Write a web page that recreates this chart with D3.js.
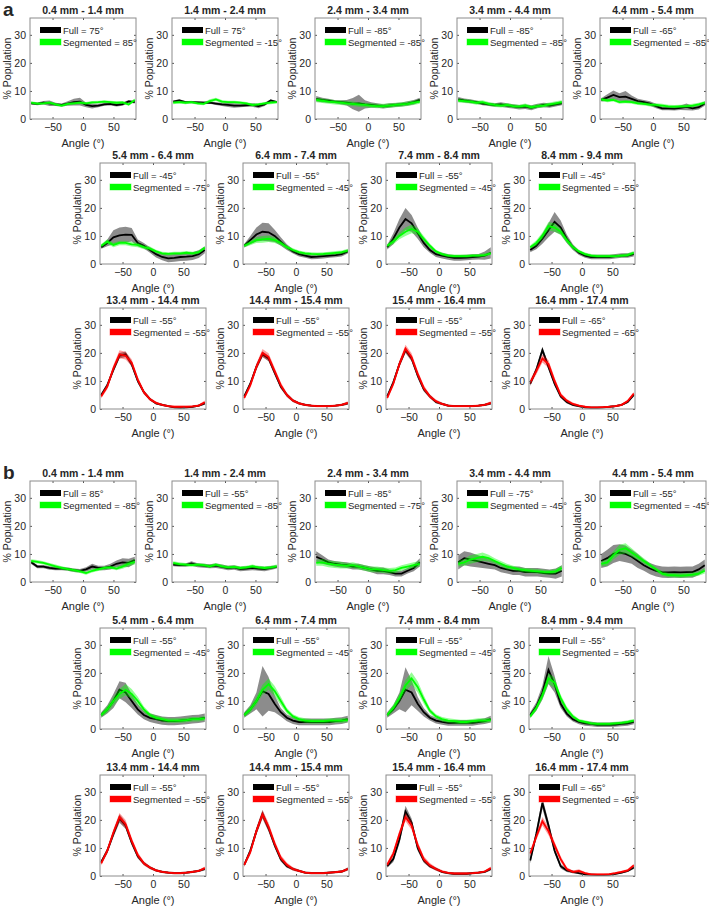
<!DOCTYPE html>
<html>
<head>
<meta charset="utf-8">
<script src="https://cdn.jsdelivr.net/npm/d3@7"></script>
<style>
  body { margin: 0; background: #fff; }
  text { font-family: "Liberation Sans", Arial, sans-serif; fill: #262626; }
</style>
</head>
<body>
<div id="chart"></div>
<script>
const width = 709;
const height = 906;

// bin centres (degrees)
const angles = [-85, -75, -65, -55, -45, -35, -25, -15, -5, 5, 15, 25, 35, 45, 55, 65, 75, 85];
const yTicks = [0, 10, 20, 30];
const xTicks = [-50, 0, 50];

const titles = [
  '0.4 mm - 1.4 mm', '1.4 mm - 2.4 mm', '2.4 mm - 3.4 mm', '3.4 mm - 4.4 mm', '4.4 mm - 5.4 mm',
  '5.4 mm - 6.4 mm', '6.4 mm - 7.4 mm', '7.4 mm - 8.4 mm', '8.4 mm - 9.4 mm',
  '13.4 mm - 14.4 mm', '14.4 mm - 15.4 mm', '15.4 mm - 16.4 mm', '16.4 mm - 17.4 mm'
];

// panel a
const fullPeakA = [75, 75, -85, -85, -65, -45, -55, -55, -45, -55, -55, -55, -65];
const segPeakA = [85, -15, -85, -85, -85, -75, -45, -45, -55, -55, -55, -55, -65];
// panel b
const fullPeakB = [85, -55, -85, -75, -55, -55, -55, -55, -55, -55, -55, -55, -65];
const segPeakB = [-85, -85, -75, -45, -45, -45, -45, -45, -55, -55, -55, -55, -65];

const fullMeanA = [
  [5.6,5.4,5.8,5.6,5.2,5.0,5.5,6.0,6.2,5.0,4.6,4.8,5.2,5.4,5.0,5.3,6.3,6.0],
  [6.2,6.6,6.0,6.0,5.9,5.8,5.8,5.5,5.2,5.0,4.8,4.8,4.9,5.0,4.6,5.2,6.6,6.0],
  [7.2,6.8,6.5,6.2,6.0,5.8,5.5,5.6,5.2,5.0,4.8,4.5,4.8,5.0,5.2,5.5,6.0,6.8],
  [7.0,6.6,6.3,6.0,5.5,5.2,5.0,5.2,4.8,4.5,4.2,4.4,4.0,4.6,5.0,4.8,5.2,5.6],
  [6.8,7.6,8.6,7.8,8.0,7.2,6.4,6.0,5.5,4.6,3.8,3.8,3.7,4.0,4.3,3.8,4.2,5.5],
  [6.0,7.5,9.5,10.2,10.5,10.4,7.5,6.5,5.0,3.5,2.5,2.0,2.2,2.5,2.6,2.8,3.5,5.0],
  [6.5,8.5,10.5,11.5,11.3,10.0,8.0,6.0,4.5,3.5,3.0,2.5,2.6,2.8,3.0,3.2,3.5,4.5],
  [6.0,9.0,13.0,16.0,14.5,11.0,7.5,5.0,3.5,3.0,2.5,2.2,2.2,2.3,2.5,2.6,3.0,4.0],
  [5.0,6.5,9.0,12.0,15.0,13.0,9.0,6.0,4.0,3.0,2.5,2.5,2.5,2.5,2.8,3.0,3.0,3.5],
  [5.0,8.5,14.0,19.0,19.5,16.0,10.0,6.0,3.5,2.0,1.5,1.0,0.6,0.5,0.6,0.8,1.2,2.0],
  [4.5,9.0,15.0,19.5,18.0,13.0,8.0,5.0,3.0,2.0,1.5,1.2,1.0,1.0,1.0,1.2,1.5,2.0],
  [4.5,9.5,16.0,21.0,18.0,12.0,7.0,4.5,2.5,1.8,1.2,1.0,1.0,1.0,1.0,1.2,1.5,2.0],
  [9.0,14.0,21.0,15.0,9.0,4.5,2.5,1.5,1.0,0.6,0.5,0.5,0.6,0.8,1.0,1.5,2.5,5.0]
];
const fullSdA = [
  [0.4,0.5,0.6,1.0,0.6,0.5,0.8,1.2,1.4,0.8,0.9,0.6,0.5,0.6,0.5,0.6,0.5,0.5],
  [0.4,0.4,0.4,0.4,0.4,0.4,0.4,0.5,0.6,0.7,0.8,0.6,0.5,0.6,0.8,0.6,0.4,0.4],
  [1.0,0.8,0.7,0.6,0.7,1.0,2.0,3.0,1.5,1.0,0.8,0.8,0.8,0.7,0.7,0.8,0.8,0.8],
  [0.8,0.7,0.7,0.6,0.6,0.6,0.6,0.8,0.8,0.8,0.8,0.8,0.9,0.8,0.8,0.8,0.7,0.7],
  [0.6,1.2,1.6,1.4,2.0,1.2,0.8,0.8,0.8,0.8,0.7,0.7,0.7,0.8,1.2,0.8,0.8,0.8],
  [0.6,1.2,2.5,2.8,2.8,2.4,1.2,1.0,1.0,1.2,1.2,1.4,1.4,1.4,1.4,1.4,1.4,1.2],
  [0.6,1.5,2.5,3.2,3.2,2.2,1.5,1.0,0.8,0.8,0.8,0.8,0.8,0.8,0.8,0.8,0.8,0.8],
  [0.8,2.0,3.0,4.0,3.0,2.0,1.5,1.0,1.0,1.0,1.0,1.0,1.0,1.0,1.0,1.0,1.5,2.0],
  [0.8,1.2,1.8,2.5,3.5,2.5,1.5,1.0,0.8,0.8,0.8,0.8,0.8,0.8,0.8,0.8,0.8,0.8],
  [0.6,0.8,1.0,1.0,1.0,1.0,0.8,0.6,0.5,0.4,0.4,0.3,0.3,0.3,0.3,0.3,0.4,0.5],
  [0.6,0.8,1.0,1.0,1.0,1.0,0.8,0.6,0.5,0.4,0.4,0.3,0.3,0.3,0.3,0.3,0.4,0.5],
  [0.6,0.8,1.0,1.0,1.0,1.0,0.8,0.6,0.5,0.4,0.4,0.3,0.3,0.3,0.3,0.3,0.4,0.5],
  [0.8,1.0,1.2,1.0,0.8,0.6,0.5,0.4,0.4,0.3,0.3,0.3,0.3,0.3,0.3,0.3,0.4,0.5]
];
const segMeanA = [
  [5.8,5.5,5.6,5.8,5.2,4.8,5.4,5.6,5.8,5.6,5.9,6.0,6.2,6.0,5.8,5.9,5.2,6.8],
  [5.8,6.0,5.8,6.0,5.6,5.4,6.4,7.0,6.2,6.0,6.0,5.8,5.6,5.0,5.2,5.6,5.8,6.0],
  [6.8,6.5,6.2,6.0,5.8,5.6,5.4,5.2,5.0,4.8,4.6,4.6,4.8,5.0,5.2,5.4,5.8,6.2],
  [6.6,6.4,6.2,5.8,6.0,5.4,5.0,4.8,5.0,4.6,4.4,4.8,4.2,4.6,4.8,5.2,5.6,6.0],
  [7.0,6.6,6.8,6.0,6.2,6.0,5.6,5.4,5.1,5.0,4.8,4.5,4.4,4.5,4.6,4.8,5.2,5.8],
  [6.5,8.0,6.8,7.5,7.5,7.0,6.8,6.0,5.5,4.5,3.8,3.6,3.8,3.8,4.0,3.8,4.2,5.8],
  [6.5,7.5,8.5,8.8,9.0,8.5,7.5,6.0,5.0,4.2,3.8,3.6,3.5,3.6,3.8,4.0,4.2,4.8],
  [6.5,8.0,10.0,11.5,12.5,11.5,9.0,6.5,4.5,3.5,3.0,2.8,2.8,2.8,3.0,3.0,3.2,3.8],
  [6.0,7.5,10.0,13.5,13.0,11.5,8.5,6.0,4.5,3.5,3.0,2.8,2.8,2.8,2.8,3.0,3.2,4.0],
  [4.5,8.0,14.5,19.5,19.0,16.5,10.5,6.0,3.5,2.2,1.5,1.0,0.8,0.8,0.8,0.9,1.2,2.4],
  [4.0,8.5,15.0,20.0,18.5,13.5,8.5,5.0,3.0,2.0,1.5,1.2,1.0,1.0,1.0,1.2,1.5,2.2],
  [4.0,9.0,16.0,21.5,18.5,12.5,7.5,4.5,2.8,1.8,1.2,1.0,1.0,1.0,1.0,1.2,1.5,2.2],
  [9.5,13.5,18.0,16.0,10.0,5.0,3.0,1.8,1.2,0.8,0.6,0.6,0.7,0.8,1.0,1.5,2.8,5.5]
];
const segSdA = [
  [0.5,0.5,0.5,0.5,0.5,0.5,0.5,0.5,0.5,0.5,0.5,0.5,0.5,0.5,0.5,0.5,0.5,0.5],
  [0.5,0.5,0.5,0.5,0.5,0.5,0.6,0.6,0.6,0.5,0.5,0.5,0.5,0.5,0.5,0.5,0.5,0.5],
  [0.8,0.8,0.8,0.8,0.8,0.8,0.8,0.8,0.8,0.8,0.8,0.8,0.8,0.8,0.8,0.8,0.8,0.8],
  [0.7,0.7,0.7,0.7,0.7,0.7,0.7,0.7,0.7,0.7,0.7,0.7,0.7,0.7,0.7,0.7,0.7,0.7],
  [0.6,0.6,0.6,0.6,0.6,0.6,0.6,0.6,0.6,0.6,0.6,0.6,0.6,0.6,0.6,0.6,0.6,0.6],
  [0.6,0.8,0.8,0.8,0.8,0.8,0.8,0.7,0.7,0.6,0.6,0.6,0.6,0.6,0.6,0.6,0.6,0.6],
  [0.6,0.8,1.0,1.2,1.2,1.0,0.8,0.7,0.6,0.6,0.6,0.6,0.6,0.6,0.6,0.6,0.6,0.6],
  [0.6,1.0,1.2,1.5,1.5,1.2,1.0,0.8,0.6,0.6,0.6,0.6,0.6,0.6,0.6,0.6,0.6,0.6],
  [0.6,1.0,1.2,1.5,1.5,1.2,1.0,0.8,0.6,0.6,0.6,0.6,0.6,0.6,0.6,0.6,0.6,0.6],
  [0.8,1.0,1.2,1.4,1.4,1.2,1.0,0.8,0.6,0.5,0.4,0.4,0.4,0.4,0.4,0.4,0.4,0.6],
  [0.8,1.0,1.2,1.4,1.4,1.2,1.0,0.8,0.6,0.5,0.4,0.4,0.4,0.4,0.4,0.4,0.4,0.6],
  [0.8,1.0,1.2,1.4,1.4,1.2,1.0,0.8,0.6,0.5,0.4,0.4,0.4,0.4,0.4,0.4,0.4,0.6],
  [1.0,1.2,1.4,1.4,1.2,0.8,0.6,0.5,0.4,0.4,0.3,0.3,0.3,0.3,0.4,0.4,0.5,0.6]
];

const fullMeanB = [
  [7.0,5.5,5.5,5.0,4.8,4.8,4.6,4.2,4.0,4.5,5.5,5.0,5.0,5.5,6.5,7.0,6.8,7.8],
  [6.2,6.0,6.0,6.6,6.0,5.8,5.6,5.8,5.4,5.0,5.2,4.6,4.8,5.0,4.8,4.6,5.0,5.4],
  [9.0,8.0,7.0,6.5,6.2,6.0,5.5,5.5,5.0,4.5,4.0,4.0,3.5,3.0,3.0,4.0,5.0,7.0],
  [7.0,8.5,8.0,7.5,7.0,6.5,6.0,5.0,4.5,4.0,4.0,3.5,3.5,3.5,3.2,3.0,3.0,4.0],
  [7.5,8.5,10.0,10.5,10.0,9.0,7.5,6.0,4.8,4.0,3.5,3.4,3.5,3.4,3.5,3.5,4.5,6.0],
  [5.0,7.0,10.0,14.0,13.0,10.0,7.0,5.0,4.0,3.5,3.0,2.8,2.8,3.0,3.2,3.5,3.6,4.0],
  [5.0,7.0,10.0,13.5,12.5,9.0,6.0,4.0,3.0,2.5,2.5,2.5,2.5,2.5,2.5,2.8,3.0,3.5],
  [5.0,7.0,10.0,14.0,13.0,9.0,6.0,4.0,3.0,2.5,2.2,2.2,2.2,2.2,2.2,2.5,2.8,3.5],
  [5.0,8.0,13.0,21.0,16.0,9.0,5.5,3.5,2.5,2.0,1.8,1.5,1.5,1.5,1.6,1.8,2.0,2.5],
  [5.0,9.0,15.0,20.5,18.0,12.0,7.0,4.5,3.0,2.0,1.5,1.2,1.0,1.0,1.2,1.5,1.8,2.5],
  [4.0,9.0,16.0,22.0,17.0,11.0,6.0,3.5,2.5,1.8,1.2,1.0,1.0,1.0,1.2,1.4,1.6,2.5],
  [3.5,6.0,13.0,23.0,19.0,10.0,5.5,3.5,2.5,1.5,1.0,0.8,0.8,0.8,1.0,1.2,1.5,2.5],
  [5.5,15.0,26.0,18.0,9.0,3.5,2.0,1.5,1.0,0.6,0.5,0.4,0.4,0.5,0.8,1.2,1.8,3.0]
];
const fullSdB = [
  [0.6,0.6,0.6,0.6,0.6,0.6,0.6,0.6,0.6,0.8,1.0,0.8,0.8,1.0,1.2,1.5,1.5,1.2],
  [0.6,0.6,0.6,0.8,0.7,0.7,0.7,0.8,0.8,0.8,0.8,0.8,0.8,0.8,0.8,0.8,0.7,0.6],
  [2.0,1.5,1.0,1.0,1.0,1.0,1.0,1.0,1.0,1.0,1.2,1.2,1.0,1.0,1.0,1.0,1.2,1.5],
  [2.5,2.5,2.5,2.2,2.0,1.8,1.5,1.5,1.5,1.5,1.5,1.5,1.5,1.5,1.5,1.5,1.8,2.0],
  [2.5,3.0,3.2,3.0,3.0,2.5,2.5,2.0,2.0,2.0,2.0,2.0,2.0,2.0,2.0,2.0,2.0,2.0],
  [1.0,1.5,2.5,3.0,3.5,2.5,1.8,1.5,1.5,1.5,1.5,1.5,1.5,1.5,1.5,1.5,1.5,1.5],
  [1.0,1.5,3.0,9.0,6.0,3.0,1.5,1.2,1.2,1.2,1.2,1.2,1.2,1.2,1.2,1.2,1.2,1.2],
  [1.0,1.5,3.0,8.0,4.5,2.5,1.5,1.0,1.0,1.0,1.0,1.0,1.0,1.0,1.0,1.0,1.0,1.2],
  [1.0,1.5,2.5,5.0,3.0,1.5,1.0,0.8,0.8,0.8,0.8,0.8,0.8,0.8,0.8,0.8,0.8,0.8],
  [0.6,1.0,1.2,1.5,1.2,1.0,0.8,0.6,0.5,0.4,0.4,0.4,0.4,0.4,0.4,0.4,0.4,0.5],
  [0.6,1.0,1.2,1.5,1.2,1.0,0.8,0.6,0.5,0.4,0.4,0.4,0.4,0.4,0.4,0.4,0.4,0.5],
  [0.6,1.0,1.5,2.0,1.5,1.0,0.8,0.6,0.5,0.4,0.4,0.4,0.4,0.4,0.4,0.4,0.4,0.5],
  [1.0,1.5,2.0,1.5,1.0,0.8,0.6,0.5,0.4,0.3,0.3,0.3,0.3,0.3,0.3,0.3,0.4,0.5]
];
const segMeanB = [
  [7.5,7.2,6.8,6.2,5.6,5.0,4.6,4.2,3.8,3.2,4.0,4.5,5.0,5.2,4.8,5.5,6.5,7.2],
  [6.8,6.4,6.2,6.0,6.2,6.0,5.6,6.2,5.6,5.2,5.4,5.0,5.2,5.6,5.2,5.0,5.2,5.6],
  [6.8,7.0,6.5,6.2,6.0,5.8,6.0,5.5,5.0,4.5,4.5,4.2,4.0,4.2,5.0,5.5,6.0,6.5],
  [6.5,7.0,8.0,8.5,9.0,8.5,7.5,6.5,5.5,5.0,4.5,4.2,4.0,3.8,3.6,3.5,3.8,5.0],
  [6.5,7.0,9.5,11.5,12.0,10.5,9.0,7.5,6.0,4.5,3.0,2.5,2.4,2.3,2.4,2.6,3.0,4.0],
  [5.0,7.0,10.0,12.5,14.0,12.5,10.0,7.0,5.0,4.0,3.5,3.0,3.0,3.0,3.2,3.5,3.5,3.8],
  [5.0,7.0,10.0,14.0,16.0,13.5,10.0,6.5,4.5,3.5,3.0,2.8,2.8,2.8,3.0,3.0,3.0,3.2],
  [5.0,7.5,11.0,15.5,18.0,15.0,10.5,6.5,4.5,3.5,3.0,2.8,2.5,2.5,2.8,3.0,3.0,3.2],
  [4.5,7.5,12.0,18.0,16.5,11.0,7.0,4.5,3.0,2.5,2.0,1.8,1.8,1.8,2.0,2.2,2.5,3.0],
  [4.5,9.0,15.5,21.0,18.5,12.5,7.5,4.5,3.0,2.0,1.5,1.2,1.0,1.0,1.2,1.5,1.8,2.8],
  [4.0,8.5,16.0,22.0,17.5,11.5,6.5,4.0,2.5,1.8,1.2,1.0,1.0,1.0,1.2,1.4,1.6,2.5],
  [4.0,8.0,15.0,21.0,18.0,11.0,6.0,3.8,2.5,1.6,1.1,0.9,0.9,0.9,1.0,1.2,1.6,2.8],
  [8.0,14.0,19.5,16.0,11.0,6.0,2.5,1.5,1.8,1.0,0.6,0.6,0.6,0.7,1.0,1.5,2.0,3.8]
];
const segSdB = [
  [0.6,0.6,0.6,0.6,0.6,0.6,0.6,0.6,0.6,0.6,0.6,0.6,0.6,0.6,0.6,0.8,1.0,1.0],
  [0.6,0.6,0.6,0.6,0.6,0.6,0.6,0.6,0.6,0.6,0.6,0.6,0.6,0.6,0.6,0.6,0.6,0.6],
  [1.0,1.2,1.2,1.2,1.2,1.0,1.0,1.0,1.0,1.0,1.0,1.0,1.0,1.0,1.0,1.0,1.0,1.0],
  [1.0,1.2,1.5,1.5,1.5,1.2,1.0,1.0,1.0,0.8,0.8,0.8,0.8,0.8,0.8,0.8,0.8,1.0],
  [1.0,1.2,1.5,1.8,1.8,1.5,1.2,1.0,0.8,0.8,0.8,0.8,0.8,0.8,0.8,0.8,0.8,1.0],
  [0.8,1.2,1.5,1.8,2.0,1.8,1.5,1.0,0.8,0.8,0.8,0.8,0.8,0.8,0.8,0.8,0.8,0.8],
  [0.8,1.2,1.5,1.8,2.0,1.8,1.5,1.0,0.8,0.8,0.8,0.8,0.8,0.8,0.8,0.8,0.8,0.8],
  [0.8,1.2,1.5,2.0,2.2,2.0,1.5,1.0,0.8,0.8,0.8,0.8,0.8,0.8,0.8,0.8,0.8,0.8],
  [0.8,1.0,1.5,2.0,1.8,1.2,1.0,0.8,0.6,0.6,0.6,0.6,0.6,0.6,0.6,0.6,0.6,0.6],
  [0.8,1.0,1.2,1.5,1.5,1.2,1.0,0.8,0.6,0.5,0.4,0.4,0.4,0.4,0.4,0.4,0.4,0.6],
  [0.8,1.0,1.2,1.5,1.5,1.2,1.0,0.8,0.6,0.5,0.4,0.4,0.4,0.4,0.4,0.4,0.4,0.6],
  [0.8,1.0,1.2,1.5,1.5,1.2,1.0,0.8,0.6,0.5,0.4,0.4,0.4,0.4,0.4,0.4,0.4,0.6],
  [1.0,1.2,1.5,1.5,1.2,1.0,0.6,0.5,0.6,0.4,0.3,0.3,0.3,0.3,0.4,0.4,0.5,0.6]
];

// layout
const boxW = 106;
const boxH = 101;
const rowTopsA = [18, 163, 308];
const rowTopsB = [481, 628, 775];
const row1Centres = [83, 225, 368, 510, 653];
const row23Centres = [153, 296, 439, 582];

const svg = d3.select('#chart')
  .append('svg')
  .attr('width', width)
  .attr('height', height);

const x = d3.scaleLinear().domain([-87, 87]).range([0, boxW]);
const y = d3.scaleLinear().domain([0, 36]).range([boxH, 0]);

const line = d3.line()
  .x((d, i) => x(angles[i]))
  .y(d => y(d));

function band(mean, sd) {
  return d3.area()
    .x((d, i) => x(angles[i]))
    .y0((d, i) => y(Math.max(0, mean[i] - sd[i])))
    .y1((d, i) => y(mean[i] + sd[i]))(mean);
}

function panelPos(i, tops) {
  if (i < 5) return {cx: row1Centres[i], top: tops[0]};
  if (i < 9) return {cx: row23Centres[i - 5], top: tops[1]};
  return {cx: row23Centres[i - 9], top: tops[2]};
}

function drawPanel(i, tops, fm, fs, sm, ss, fLab, sLab) {
  const p = panelPos(i, tops);
  const red = i >= 9;
  const segCol = red ? '#ff0000' : '#00ff00';
  const segBand = red ? 'rgba(255,0,0,0.38)' : 'rgba(0,255,0,0.42)';

  const g = svg.append('g').attr('transform', `translate(${p.cx - boxW / 2},${p.top})`);

  // grey band + black line
  g.append('path').attr('d', band(fm, fs)).attr('fill', 'rgba(0,0,0,0.45)');
  g.append('path').attr('d', line(fm)).attr('fill', 'none').attr('stroke', '#000').attr('stroke-width', 1.8);
  // segmented band + line
  g.append('path').attr('d', band(sm, ss)).attr('fill', segBand);
  g.append('path').attr('d', line(sm)).attr('fill', 'none').attr('stroke', segCol).attr('stroke-width', 1.8);

  // axes, ticks pointing inwards on all four sides
  const ax = g.append('g').attr('transform', `translate(0,${boxH})`)
    .call(d3.axisBottom(x).tickValues(xTicks).tickSizeInner(-2).tickSizeOuter(0).tickPadding(5));
  const ay = g.append('g')
    .call(d3.axisLeft(y).tickValues(yTicks).tickSizeInner(-2).tickSizeOuter(0).tickPadding(4));
  g.append('g').call(d3.axisTop(x).tickValues(xTicks).tickSizeInner(-2).tickSizeOuter(0).tickFormat(''));
  g.append('g').attr('transform', `translate(${boxW},0)`)
    .call(d3.axisRight(y).tickValues(yTicks).tickSizeInner(-2).tickSizeOuter(0).tickFormat(''));
  g.selectAll('.domain').remove();
  g.selectAll('.tick line').attr('stroke', '#555');
  [ax, ay].forEach(a => a.selectAll('text')
    .style('font-family', '"Liberation Sans", Arial, sans-serif')
    .style('font-size', '10.5px').attr('fill', '#262626'));

  g.append('rect').attr('width', boxW).attr('height', boxH)
    .attr('fill', 'none').attr('stroke', '#8c8c8c').attr('stroke-width', 1);

  // labels
  g.append('text').attr('x', boxW / 2).attr('y', -4).attr('text-anchor', 'middle')
    .style('font-size', '10.5px').style('font-weight', 'bold').text(titles[i]);
  g.append('text').attr('x', boxW / 2).attr('y', boxH + 28).attr('text-anchor', 'middle')
    .style('font-size', '11px').text('Angle (°)');
  g.append('text').attr('transform', `translate(-19,${boxH / 2}) rotate(-90)`)
    .attr('text-anchor', 'middle').style('font-size', '10.5px').text('% Population');

  // legend
  const lg = g.append('g').attr('transform', 'translate(10,12)');
  lg.append('rect').attr('x', 0).attr('y', -3).attr('width', 21).attr('height', 6).attr('fill', '#000');
  lg.append('text').attr('x', 23).attr('y', 3.5).style('font-size', '9.5px').text(`Full = ${fLab}°`);
  lg.append('rect').attr('x', 0).attr('y', 9).attr('width', 21).attr('height', 6).attr('fill', segCol)
    .attr('stroke', segBand).attr('stroke-width', 1);
  lg.append('text').attr('x', 23).attr('y', 15.5).style('font-size', '9.5px').text(`Segmented = ${sLab}°`);
}

for (let i = 0; i < titles.length; i++) {
  drawPanel(i, rowTopsA, fullMeanA[i], fullSdA[i], segMeanA[i], segSdA[i], fullPeakA[i], segPeakA[i]);
  drawPanel(i, rowTopsB, fullMeanB[i], fullSdB[i], segMeanB[i], segSdB[i], fullPeakB[i], segPeakB[i]);
}

svg.append('text').attr('x', 3).attr('y', 16).style('font-size', '19px').style('font-weight', 'bold').text('a');
svg.append('text').attr('x', 3).attr('y', 479).style('font-size', '19px').style('font-weight', 'bold').text('b');
</script>
</body>
</html>
